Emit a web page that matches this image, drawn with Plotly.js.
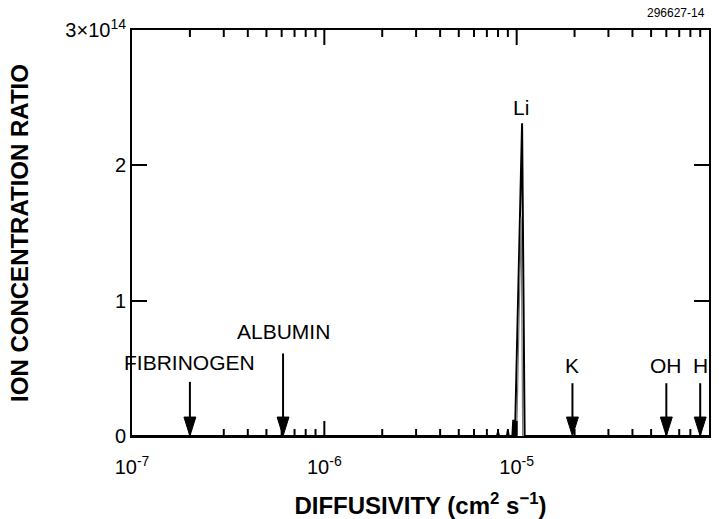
<!DOCTYPE html>
<html>
<head>
<meta charset="utf-8">
<script src="https://cdn.plot.ly/plotly-3.0.1.min.js"></script>
<style>
  html, body { margin: 0; padding: 0; background: #fff; }
  #chart { width: 719px; height: 519px; }
</style>
</head>
<body>
<div id="chart"></div>
<script>
// Measured ion concentration ratio versus diffusivity (units of 1e14)
const diffusivity = [1e-7, 7.9e-6, 8.0e-6, 8.1e-6, 8.9e-6, 9.0e-6, 9.1e-6, 9.5e-6, 9.6e-6, 9.7e-6, 9.8e-6, 1.067e-5, 1.10e-5, 1e-4];
const ratio       = [0,    0,      0.03,   0,      0,      0.04,   0,      0,      0.12,   0,      0,      2.31,     0,       0];

// Second (overlapping) trace of the Li peak
const liInnerDiff  = [1.0e-5, 1.055e-5, 1.075e-5];
const liInnerRatio = [0,      1.62,     0];

// Reference species, diffusivity in cm^2/s
const speciesNames = ['FIBRINOGEN', 'ALBUMIN', 'K', 'OH', 'H'];
const speciesDiff  = [2.0e-7, 6.1e-7, 1.95e-5, 6.0e-5, 9.0e-5];
const arrowTop     = [0.40, 0.61, 0.39, 0.39, 0.39];
const labelLevel   = [0.54, 0.77, 0.52, 0.52, 0.52];

// Axis ticks
const decadeVals = [1e-7, 1e-6, 1e-5, 1e-4];
const decadeText = ['10<sup>-7</sup>', '10<sup>-6</sup>', '10<sup>-5</sup>', '10<sup>-4</sup>'];
const minorDigits = [2, 3, 4, 5, 6, 7, 8, 9];
const yTickVals = [0, 1, 2, 3];
const yTickText = ['0', '1', '2', '3\u00d710<sup>14</sup>'];

const FONT = 'Liberation Sans, Arial, Helvetica, sans-serif';
const Y_MAX = 3;
const Y_PER_PX = Y_MAX / 406;   // y units per pixel of plot height
const HEAD_H = 0.14;            // arrow head height, y units
const HEAD_W = 0.031;           // arrow head half width, decades
const LONG_TICK = 15 * Y_PER_PX;
const SHORT_TICK = 7 * Y_PER_PX;

const traces = [
  { x: diffusivity, y: ratio, mode: 'lines', line: { color: '#000', width: 2 }, hoverinfo: 'skip' },
  { x: liInnerDiff, y: liInnerRatio, mode: 'lines', line: { color: '#777', width: 1.2 }, hoverinfo: 'skip' }
];

// tick marks along the bottom and top edges of the log axis
const tickX = [], tickY = [];
function edgeTick(v, len) {
  tickX.push(v, v, null, v, v, null);
  tickY.push(0, len, null, Y_MAX, Y_MAX - len, null);
}
decadeVals.slice(0, -1).forEach((d, i) => {
  if (i > 0) edgeTick(d, LONG_TICK);
  minorDigits.forEach(k => edgeTick(d * k, SHORT_TICK));
});
traces.push({ x: tickX, y: tickY, mode: 'lines', line: { color: '#000', width: 2 }, hoverinfo: 'skip' });

// arrow shafts
const shaftX = [], shaftY = [];
speciesDiff.forEach((d, i) => { shaftX.push(d, d, null); shaftY.push(HEAD_H * 0.5, arrowTop[i], null); });
traces.push({ x: shaftX, y: shaftY, mode: 'lines', line: { color: '#000', width: 2 }, hoverinfo: 'skip' });

// arrow heads
speciesDiff.forEach(d => {
  const lo = d * Math.pow(10, -HEAD_W), hi = d * Math.pow(10, HEAD_W);
  traces.push({
    x: [lo, hi, d, lo], y: [HEAD_H, HEAD_H, 0, HEAD_H],
    mode: 'lines', fill: 'toself', fillcolor: '#000',
    line: { color: '#000', width: 1 }, hoverinfo: 'skip'
  });
});

const annotations = speciesNames.map((n, i) => ({
  x: Math.log10(speciesDiff[i]), y: labelLevel[i], xref: 'x', yref: 'y',
  text: n, showarrow: false, xanchor: 'center', yanchor: 'middle',
  font: { family: FONT, size: 21, color: '#000' }
}));
annotations.push({
  x: Math.log10(1.055e-5), y: 2.43, xref: 'x', yref: 'y', text: 'Li', showarrow: false,
  xanchor: 'center', yanchor: 'middle', font: { family: FONT, size: 21, color: '#000' }
});
annotations.push({
  x: (707 - 132) / (709 - 132), y: (436 - 13) / 406, xref: 'paper', yref: 'paper',
  text: '296627-14', showarrow: false, xanchor: 'right', yanchor: 'middle',
  font: { family: FONT, size: 12, color: '#000' }
});

const layout = {
  width: 719, height: 519,
  margin: { l: 132, r: 10, t: 30, b: 83 },
  paper_bgcolor: '#fff', plot_bgcolor: '#fff',
  showlegend: false,
  font: { family: FONT, color: '#000', size: 20 },
  xaxis: {
    type: 'log', range: [-7, -4],
    tickmode: 'array', tickvals: decadeVals, ticktext: decadeText,
    ticks: '', showline: true, linecolor: '#000', linewidth: 2, mirror: true,
    showgrid: false, zeroline: false,
    ticklabelstandoff: 12,
    tickfont: { family: FONT, size: 20, color: '#000' },
    title: { text: 'DIFFUSIVITY (cm<sup>2</sup> s<sup>\u22121</sup>)', standoff: 22,
             font: { family: FONT, size: 24, color: '#000', weight: 'bold' } }
  },
  yaxis: {
    range: [0, Y_MAX],
    tickmode: 'array', tickvals: yTickVals, ticktext: yTickText,
    ticks: 'inside', ticklen: 15, tickwidth: 2, tickcolor: '#000',
    showline: true, linecolor: '#000', linewidth: 2, mirror: 'ticks',
    showgrid: false, zeroline: false,
    ticklabelstandoff: 0,
    tickfont: { family: FONT, size: 20, color: '#000' },
    title: { text: 'ION CONCENTRATION RATIO', standoff: 30,
             font: { family: FONT, size: 24, color: '#000', weight: 'bold' } }
  },
  annotations: annotations
};

Plotly.newPlot('chart', traces, layout, { displayModeBar: false, staticPlot: true });
</script>
</body>
</html>
